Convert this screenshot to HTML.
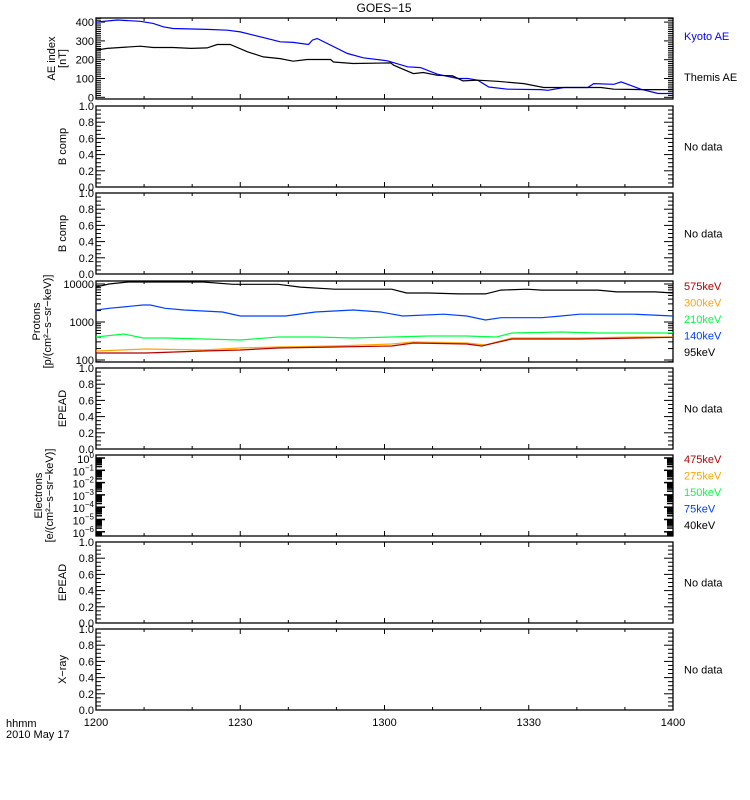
<!DOCTYPE html>
<html><head><meta charset="utf-8"><title>GOES-15</title>
<style>html,body{margin:0;padding:0;background:#fff;}svg{display:block;font-family:"Liberation Sans",sans-serif;}</style>
</head><body>
<svg id="chart" width="750" height="800" viewBox="0 0 750 800" xmlns="http://www.w3.org/2000/svg"></svg>
<script>
// ---- data ----
var aeKyotoT = [0,4.4,9.2,11.9,14,16,23.1,27.3,30,32.7,36.9,38.3,41,44.2,45,46,52.3,55.6,60.6,64.8,67.5,71,75.2,77.3,79.4,81.7,85.6,92.5,94,97.3,102.3,103.5,107.7,109.2,113.3,116.9,120];
var aeKyotoV = [400,411,404,393,375,366,361,357,348,331,304,295,292,281,304,313,233,210,194,162,158,123,100,100,91,55,43,41,37,52,52,73,69,82,43,20,20];
var aeThemisT = [0,2.3,9.2,11.9,16,19.8,23.1,25.2,27.9,31.5,34.8,38.3,41,43.9,48.8,49.4,53.5,61.3,61.9,66,68.1,71,74.2,76.3,79.4,83.5,89,93.1,99.4,105,107.7,113.3,120];
var aeThemisV = [251,260,272,265,265,260,263,281,281,242,215,206,192,201,201,188,180,183,171,126,132,117,114,87,91,85,73,52,52,52,43,41,41];

var pT95 = [0,2.7,6.7,17.5,22.3,28.5,37.9,42.5,49.6,55.8,61.5,64.6,69.2,75.4,81,84.2,89.6,92.7,104.4,108.3,116.3,120];
var pV95 = [8300,10000,11300,11300,11300,9800,9800,8300,7300,7300,7300,5800,5800,5500,5500,6900,7300,6900,6900,6200,6200,5800];
var pT140 = [0,2.7,9.8,11.3,14.4,18.3,26.3,30,39.4,45.6,53.5,59.2,63.8,72.3,77.1,81,84.2,92.7,96.7,100.6,111.7,120];
var pV140 = [2070,2300,2800,2800,2300,2070,1830,1440,1440,1830,2070,1830,1440,1600,1440,1130,1300,1300,1440,1600,1600,1440];
var pT210 = [0,5.8,9.8,14.4,22.3,30,37.9,45.6,53.5,61.5,69.2,77.1,83.3,86.5,96.7,104.4,120];
var pV210 = [403,483,379,379,357,336,403,403,379,403,428,428,403,515,545,515,515];
var pT300 = [0,10.4,22.3,30,37.9,49.6,61.5,66,77.1,81,86.5,100.6,112.3,120];
var pV300 = [172,195,183,207,220,233,263,298,280,248,379,379,403,403];
var pT575 = [0,10.4,22.3,30,37.9,49.6,61.5,66,77.1,80.2,86.5,100.6,112.3,120];
var pV575 = [153,153,172,183,207,220,233,280,263,233,357,357,379,395];

var timeTicks = ["1200","1230","1300","1330","1400"];
var aeTicks = [0,100,200,300,400];
var linTicks = ["0.0","0.2","0.4","0.6","0.8","1.0"];
var protonTicks = [100,1000,10000];
var electronExps = [0,-1,-2,-3,-4,-5,-6];
var protonLegend = ["575keV","300keV","210keV","140keV","95keV"];
var protonColors = ["#b40000","#ffa500","#00ff40","#0040ff","#000000"];
var electronLegend = ["475keV","275keV","150keV","75keV","40keV"];

// ---- layout ----
var NS="http://www.w3.org/2000/svg";
var svg=document.getElementById('chart');
var X0=96, X1=673;
var tops=[18,106,193,281,368,455,542,629], PH=81;
function xT(m){return X0+(X1-X0)*m/120;}
function el(tag,attrs,parent){var e=document.createElementNS(NS,tag);for(var k in attrs)e.setAttribute(k,attrs[k]);(parent||svg).appendChild(e);return e;}
function txt(s,x,y,opt,parent){var e=el('text',{x:x,y:y,'font-size':(opt&&opt.size)||11,fill:(opt&&opt.fill)||'#000','text-anchor':(opt&&opt.anchor)||'start'},parent);if(opt&&opt.rot)e.setAttribute('transform','rotate(-90 '+x+' '+y+')');e.textContent=s;return e;}
function line(x1,y1,x2,y2,parent,w){return el('line',{x1:x1,y1:y1,x2:x2,y2:y2,stroke:'#000','stroke-width':w||1},parent);}

var title=txt("GOES\u221215",384,12,{anchor:'middle',size:12});



function panelFrame(i,name){
  var g=el('g',{});
  
  
  var t=tops[i];
  el('rect',{x:X0,y:t,width:X1-X0,height:PH,fill:'none',stroke:'#000','stroke-width':1.3},g);
  for(var m=0;m<=120;m+=10){var L=(m%30===0)?5:3;var x=xT(m);line(x,t,x,t+L,g);line(x,t+PH,x,t+PH-L,g);}
  return g;
}
function yTicksLin(g,i,vmin,vmax,major,minor,labels){
  var t=tops[i];
  function y(v){return t+PH-(v-vmin)/(vmax-vmin)*PH;}
  for(var v=vmin;v<=vmax+1e-9;v+=minor){var isM=Math.abs(Math.round(v/major)*major-v)<1e-6;var L=isM?9:5;var yy=y(v);line(X0,yy,X0+L,yy,g);line(X1,yy,X1-L,yy,g);}
  labels.forEach(function(s){var yy=y(parseFloat(s));txt(s,X0-2,yy+4,{anchor:'end',size:11},g);});
}
function ylabel(lines,xs,i,g){
  var cy=tops[i]+PH/2;
  lines.forEach(function(s,k){txt(s,xs[k]+4,cy,{anchor:'middle',size:11,rot:true},g);});
}
function noData(i,g){var t=txt("No data",684,tops[i]+PH/2+4,{size:11},g);}
function path(ts,vs,fy,color,g,name){
  var d=ts.map(function(t,k){return (k?'L':'M')+xT(t).toFixed(1)+','+fy(vs[k]).toFixed(1);}).join(' ');
  var p=el('path',{d:d,fill:'none',stroke:color,'stroke-width':1.2},g);
  
  
}

// Panel 0 AE
var g0=panelFrame(0,'ae-index-panel');
(function(){var t=tops[0];function y(v){return 97.3-v*0.188;}
  for(var v=0;v<=420;v+=10){var L=(v%100===0)?9:5;var yy=y(v);if(yy<t||yy>t+PH)continue;line(X0,yy,X0+L,yy,g0);line(X1,yy,X1-L,yy,g0);}
  aeTicks.forEach(function(v){txt(String(v),X0-2,y(v)+4,{anchor:'end',size:11},g0);});
  path(aeKyotoT,aeKyotoV,y,'#0000ff',g0,'kyoto-ae-line');
  path(aeThemisT,aeThemisV,y,'#000',g0,'themis-ae-line');
})();
ylabel(["AE index","[nT]"],[51,62],0,g0);
var k1=txt("Kyoto AE",684,40,{fill:'#0000ff'},g0);
var k2=txt("Themis AE",684,81,{},g0);

// linear empty panels
[[1,'b-comp-panel-1',["B comp"]],[2,'b-comp-panel-2',["B comp"]],[4,'epead-panel-1',["EPEAD"]],[6,'epead-panel-2',["EPEAD"]],[7,'xray-panel',["X\u2212ray"]]].forEach(function(c){
  var g=panelFrame(c[0],c[1]);yTicksLin(g,c[0],0,1,0.2,0.05,linTicks);ylabel(c[2],[62],c[0],g);noData(c[0],g);
});

// Protons
var g3=panelFrame(3,'protons-panel');
(function(){function y(v){return 322-38*(Math.log10(v)-3);}
  var t=tops[3];
  for(var d=10;d<=10000;d*=10){for(var k=1;k<10;k++){var v=d*k;var yy=y(v);if(yy<t||yy>t+PH)continue;var L=(k===1)?9:5;line(X0,yy,X0+L,yy,g3);line(X1,yy,X1-L,yy,g3);}}
  protonTicks.forEach(function(v){txt(String(v),X0-2,y(v)+4,{anchor:'end',size:11},g3);});
  path(pT95,pV95,y,'#000',g3,'proton-95kev-line');
  path(pT140,pV140,y,'#0040ff',g3,'proton-140kev-line');
  path(pT210,pV210,y,'#00ff40',g3,'proton-210kev-line');
  path(pT300,pV300,y,'#ffa500',g3,'proton-300kev-line');
  path(pT575,pV575,y,'#b40000',g3,'proton-575kev-line');
  protonLegend.forEach(function(s,k){var e=txt(s,684,290+k*16.5,{fill:protonColors[k]},g3);});
})();
ylabel(["Protons","[p/(cm\u00b2\u2212s\u2212sr\u2212keV)]"],[36,47],3,g3);

// Electrons
var g5=panelFrame(5,'electrons-panel');
(function(){var t=tops[5];function y(e){return t+3+(0-e)*12.3;}
  for(var e=1;e>=-7;e--){for(var k=1;k<10;k++){var yy=y(e+Math.log10(k));if(yy<t||yy>t+PH)continue;var L=(k===1)?9:6;el('line',{x1:X0,y1:yy,x2:X0+L,y2:yy,stroke:'#000','stroke-width':1.5},g5);el('line',{x1:X1,y1:yy,x2:X1-L,y2:yy,stroke:'#000','stroke-width':1.5},g5);}}
  electronExps.forEach(function(e){var tx=el('text',{x:X0-2,y:y(e)+5,'font-size':11,'text-anchor':'end'},g5);
    var a=document.createElementNS(NS,'tspan');a.textContent='10';tx.appendChild(a);
    var b=document.createElementNS(NS,'tspan');b.setAttribute('dy','-5');b.setAttribute('font-size','8');b.textContent=(e<0?'\u2212':'')+Math.abs(e);tx.appendChild(b);});
  electronLegend.forEach(function(s,k){var e=txt(s,684,463+k*16.5,{fill:protonColors[k]},g5);});
})();
ylabel(["Electrons","[e/(cm\u00b2\u2212s\u2212sr\u2212keV)]"],[38,49],5,g5);

// x-axis labels
var gx=el('g',{});


timeTicks.forEach(function(s,k){txt(s,xT(k*30),726,{anchor:'middle',size:11},gx);});
txt("hhmm",6,727,{size:11},gx);
txt("2010 May 17",6,738,{size:11},gx);
</script>
</body></html>
